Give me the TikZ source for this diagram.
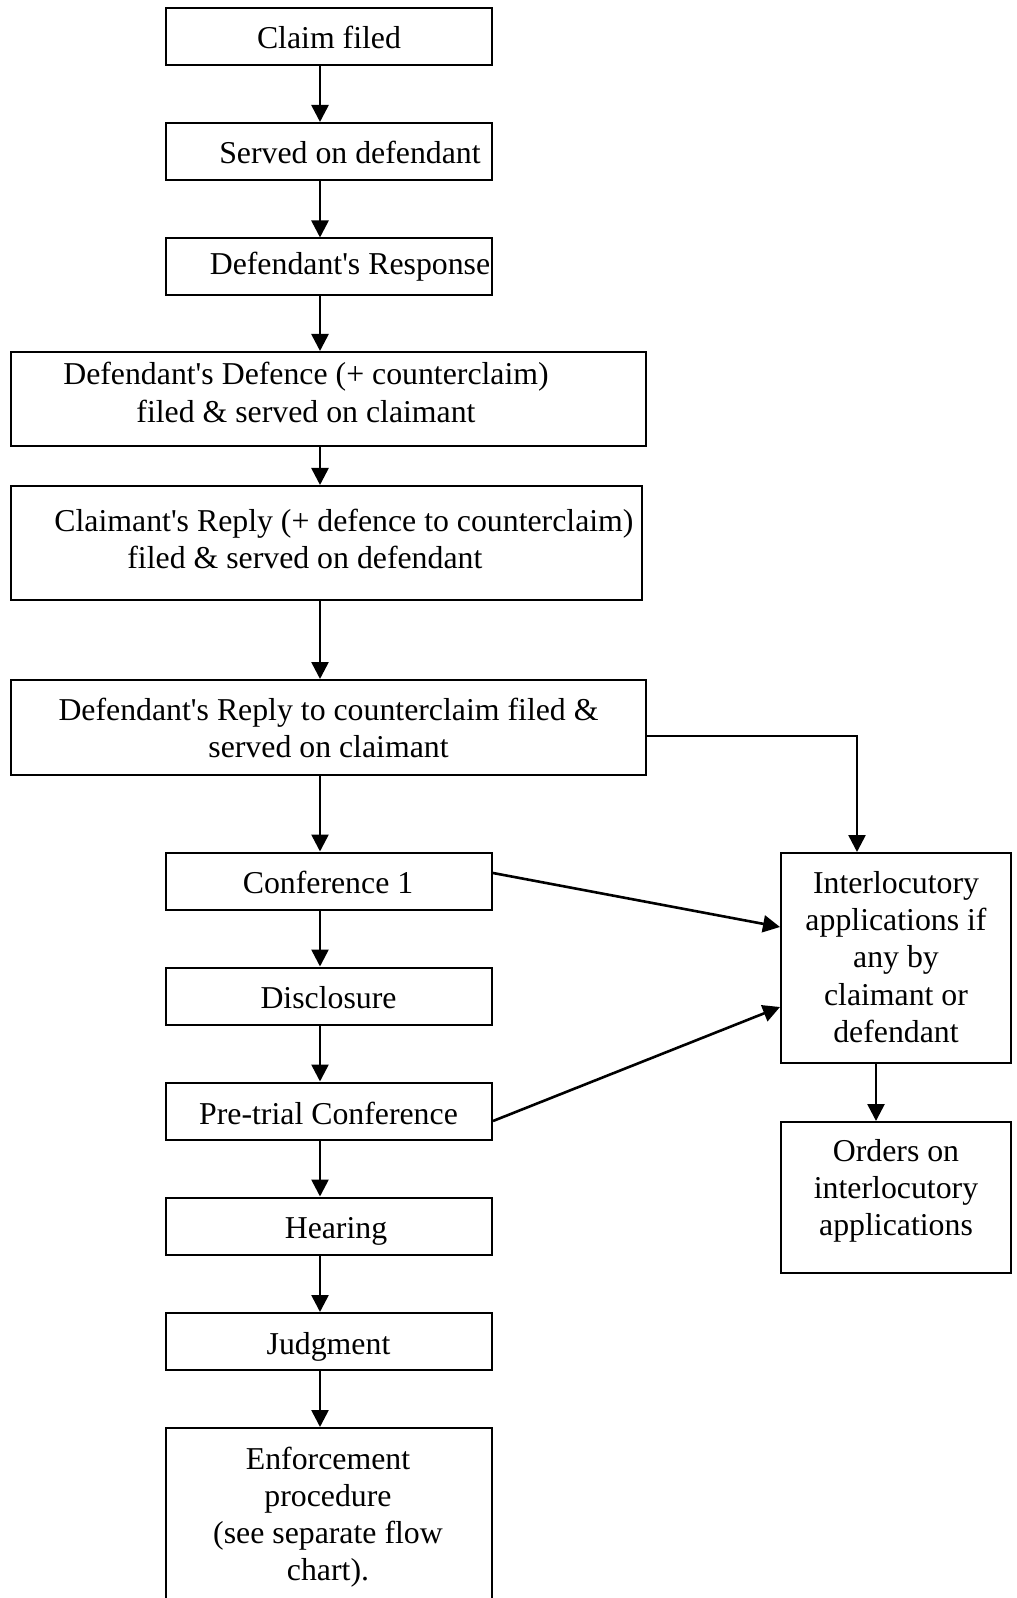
\documentclass[tikz,border=0pt]{standalone}
\usepackage{fontspec}
\setmainfont{Liberation Serif}
\usetikzlibrary{arrows.meta,positioning}

\tikzset{
  stage/.style = {draw, line width = 1pt, shape = rectangle, inner sep = 0pt},
  smallstage/.style = {stage, minimum width = 163pt, minimum height = 28.5pt},
  widestage/.style = {stage, minimum width = 317.5pt},
  sidestage/.style = {stage, minimum width = 115pt},
  stagetext/.style = {inner sep = 0pt, align = center},
  flow/.style = {line width = 1.3pt, -{Triangle[length = 8.5pt, width = 8.5pt]}}
}
\newcommand{\apos}{\textquotesingle}

\begin{document}
\begin{tikzpicture}[x = 0.5pt, y = -0.5pt, font = \fontsize{15.9}{18.6}\selectfont]
\useasboundingbox (0,0) rectangle (1016,1598);
\clip (0,0) rectangle (1016,1598);
\coordinate (spine) at (320,0);

% main column
\node[smallstage] (claim) at (329,36.5) {};
\node[smallstage] (served) at (329,151.5) {};
\node[smallstage] (response) at (329,267) {};
\node[widestage, minimum height = 47pt] (defence) at (328.5,399) {};
\node[stage, minimum width = 315.5pt, minimum height = 57pt] (creply) at (326.5,543) {};
\node[widestage, minimum height = 47.5pt] (dreply) at (328.5,727.5) {};
\node[smallstage] (conf) at (329,881) {};
\node[smallstage] (disclosure) at (329,996) {};
\node[smallstage] (pretrial) at (329,1111) {};
\node[smallstage] (hearing) at (329,1226) {};
\node[smallstage] (judgment) at (329,1341.5) {};
\node[stage, minimum width = 163pt, minimum height = 136pt] (enforce) at (329,1564) {};

% side column
\node[sidestage, minimum height = 105pt] (interloc) at (896,958) {};
\node[sidestage, minimum height = 75.5pt] (orders) at (896,1197.5) {};

% texts
\node[stagetext] (claim-t) at (329,37.5) {Claim filed};
\node[stagetext] (served-t) at (350,152.5) {Served on defendant};
\node[stagetext] (response-t) at (350,267) {Defendant\apos s Response};
\node[stagetext] (defence-t) at (306,392.5) {Defendant\apos s Defence (+ counterclaim)\\filed \& served on claimant};
\node[stagetext, anchor = west, align = left] (creply-t) at (54,539) {Claimant\apos s Reply (+ defence to counterclaim)\\\hspace*{36.5pt}filed \& served on defendant};
\node[stagetext] (dreply-t) at (328.5,728) {Defendant\apos s Reply to counterclaim filed \&\\served on claimant};
\node[stagetext] (conf-t) at (328,882.5) {Conference 1};
\node[stagetext] (disclosure-t) at (328.5,998) {Disclosure};
\node[stagetext] (pretrial-t) at (328.5,1113) {Pre-trial Conference};
\node[stagetext] (hearing-t) at (336,1231) {Hearing};
\node[stagetext] (judgment-t) at (328.5,1347) {Judgment};
\node[stagetext] (enforce-t) at (328,1517) {Enforcement\\procedure\\(see separate flow\\chart).};
\node[stagetext] (interloc-t) at (896,957) {Interlocutory\\applications if\\any by\\claimant or\\defendant};
\node[stagetext] (orders-t) at (896,1191) {Orders on\\interlocutory\\applications};

% connectors
\foreach \from/\to in {claim/served, served/response, response/defence, defence/creply,
  creply/dreply, dreply/conf, conf/disclosure, disclosure/pretrial, pretrial/hearing,
  hearing/judgment, judgment/enforce}
  \draw[flow] (\from.south -| spine) -- (\to.north -| spine);
\draw[flow] ([yshift = -4.25pt]dreply.east) -| ([xshift = -19.5pt]interloc.north);
\draw[flow] ([yshift = 4pt]conf.east) -- ([yshift = 15.5pt]interloc.west);
\draw[flow] ([yshift = -5pt]pretrial.east) -- ([yshift = -24.5pt]interloc.west);
\draw[flow] ([xshift = -10pt]interloc.south) -- ([xshift = -10pt]orders.north);
\end{tikzpicture}
\end{document}
